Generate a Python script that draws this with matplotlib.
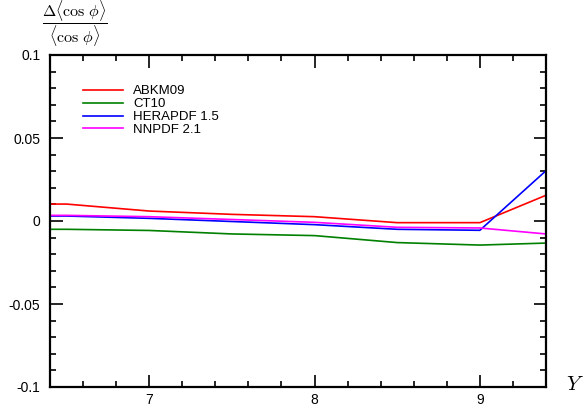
import numpy as np
import matplotlib.pyplot as plt
from matplotlib.ticker import MultipleLocator

plt.rcParams['font.family'] = ['Liberation Sans', 'DejaVu Sans']
plt.rcParams['mathtext.fontset'] = 'cm'

# rapidity points
Y = [6.4, 6.5, 7.0, 7.5, 8.0, 8.5, 9.0, 9.4]

abkm09 = [0.0102, 0.0102, 0.0060, 0.0040, 0.0026, -0.0010, -0.0010, 0.0155]
ct10 = [-0.0050, -0.0050, -0.0057, -0.0078, -0.0088, -0.0130, -0.0145, -0.0133]
herapdf = [0.0030, 0.0030, 0.0016, -0.0003, -0.0022, -0.0050, -0.0056, 0.0303]
nnpdf = [0.0034, 0.0034, 0.0026, 0.0009, -0.0008, -0.0038, -0.0042, -0.0078]

labels = ["ABKM09", "CT10", "HERAPDF 1.5", "NNPDF 2.1"]
colors = ["#ff0000", "#008000", "#0000ff", "#ff00ff"]

fig = plt.figure(figsize=(5.84, 4.07), dpi=100)
ax = fig.add_axes([50/584, 20/407, 496/584, 332/407])

for vals, lab, col in zip([abkm09, ct10, herapdf, nnpdf], labels, colors):
    ax.plot(Y, vals, color=col, lw=1.2, label=lab)

ax.set_xlim(6.4, 9.4)
ax.set_ylim(-0.1, 0.1)
ax.xaxis.set_minor_locator(MultipleLocator(0.2))
ax.yaxis.set_minor_locator(MultipleLocator(0.01))
ax.set_xticks([7, 8, 9])
ax.set_xticklabels(["7", "8", "9"])
ax.set_yticks([-0.1, -0.05, 0, 0.05, 0.1])
ax.set_yticklabels(["-0.1", "-0.05", "0", "0.05", "0.1"])

ax.tick_params(which='both', direction='in', top=True, right=True,
               width=1.2, labelsize=10)
ax.tick_params(axis='y', pad=7)
ax.tick_params(axis='x', pad=4)
ax.tick_params(which='major', length=9)
ax.tick_params(which='minor', length=4.5)
for sp in ax.spines.values():
    sp.set_linewidth(1.6)

leg = ax.legend(loc='upper left', bbox_to_anchor=(0.056, 0.925), frameon=False,
                fontsize=9.5, handlelength=3.0, handletextpad=0.8,
                labelspacing=0.05, borderaxespad=0)

fig.text(75/584, 1 - 24/407,
         r"$\dfrac{\Delta\langle\cos\,\phi\rangle}{\langle\cos\,\phi\rangle}$",
         ha='center', va='center', fontsize=11.5)
fig.text(575/584, 1 - 384/407, r"$Y$", ha='center', va='center', fontsize=15)

fig.savefig("out.png", dpi=100)
